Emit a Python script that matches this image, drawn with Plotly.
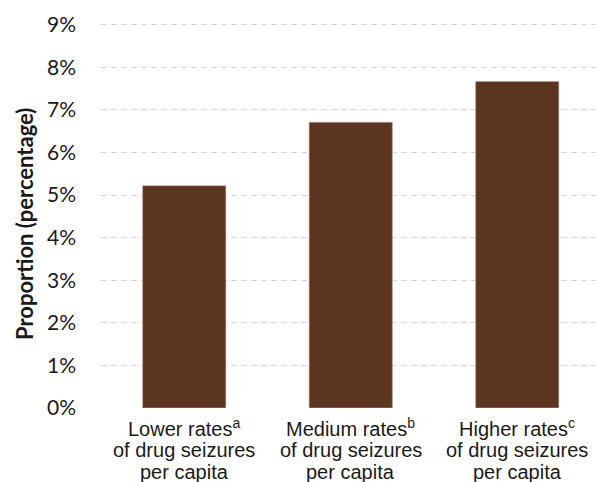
import plotly.graph_objects as go

category_lines = [
    ["Lower rates<sup>a</sup>", "of drug seizures", "per capita"],
    ["Medium rates<sup>b</sup>", "of drug seizures", "per capita"],
    ["Higher rates<sup>c</sup>", "of drug seizures", "per capita"],
]
values = [5.22, 6.71, 7.67]
y_ticks = [0, 1, 2, 3, 4, 5, 6, 7, 8, 9]
y_title = "Proportion (percentage)"

xpos = list(range(len(values)))

fig = go.Figure()
fig.add_trace(go.Bar(
    x=xpos,
    y=values,
    width=0.5,
    marker=dict(color="#5C3520", line=dict(color="#B8A89C", width=0.6)),
))

annotations = [dict(
    text=f"<b>{y_title}</b>", textangle=-90,
    xref="paper", yref="paper", x=0, y=0.5,
    xanchor="center", yanchor="middle", xshift=-77, yshift=-14, showarrow=False,
    font=dict(family="Lato, Open Sans", size=22, color="#1a1a1a"),
)]
line_gap = 22.5
for i, lines in enumerate(category_lines):
    for j, ln in enumerate(lines):
        annotations.append(dict(
            text=ln, xref="x", yref="paper", x=xpos[i], y=0,
            xanchor="center", yanchor="middle", showarrow=False,
            yshift=-(19 + j * line_gap),
            font=dict(family="Liberation Sans, Arial", size=20, color="#1a1a1a"),
        ))

fig.update_layout(
    width=596, height=482,
    margin=dict(l=101, r=0, t=12.2, b=73.5),
    paper_bgcolor="white", plot_bgcolor="white",
    showlegend=False,
    xaxis=dict(
        range=[-0.5, 2.473],
        tickmode="array", tickvals=xpos, ticktext=["", "", ""],
        showgrid=False, zeroline=False, showline=False, ticks="",
    ),
    yaxis=dict(
        range=[0, 9.3],
        tickmode="array", tickvals=y_ticks,
        ticktext=[f"{v}%" for v in y_ticks],
        showgrid=True, gridcolor="#D6D6D6", gridwidth=1, griddash="6px,4px",
        zeroline=False, showline=False, ticks="",
        ticklabelstandoff=24,
        tickfont=dict(family="Lato, Open Sans", size=21, color="#1a1a1a"),
    ),
    annotations=annotations,
)
fig.write_html("out.html")
